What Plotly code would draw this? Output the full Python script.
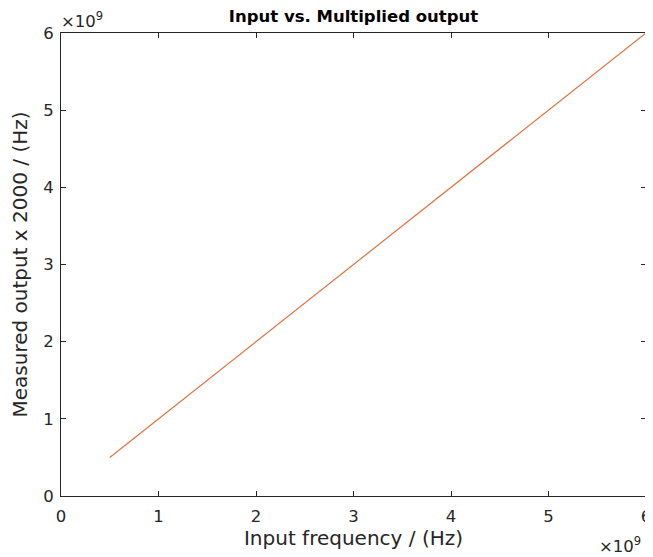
import plotly.graph_objects as go

input_freq = [0.5e9, 1e9, 1.5e9, 2e9, 2.5e9, 3e9, 3.5e9, 4e9, 4.5e9, 5e9, 5.5e9, 6e9]
measured_out = [0.5e9, 1e9, 1.5e9, 2e9, 2.5e9, 3e9, 3.5e9, 4e9, 4.5e9, 5e9, 5.5e9, 6e9]
tick_vals = [0, 1e9, 2e9, 3e9, 4e9, 5e9, 6e9]
tick_text = ["0", "1", "2", "3", "4", "5", "6"]

FONT = "DejaVu Sans"
INK = "#262626"
OFF = 8  # browser body margin offset

fig = go.Figure()
fig.add_trace(go.Scatter(x=input_freq, y=measured_out, mode="lines",
                         line=dict(color="#E0733F", width=1.2), showlegend=False,
                         cliponaxis=False))

axis_common = dict(showgrid=False, zeroline=False, showline=True, linecolor=INK,
                   linewidth=1, mirror="ticks", ticks="inside", ticklen=5, tickcolor=INK,
                   tickvals=tick_vals, ticktext=tick_text, range=[0, 6e9],
                   automargin=False,
                   tickfont=dict(family=FONT, size=16.5, color=INK))

fig.update_layout(
    width=653, height=557,
    margin=dict(l=61 - OFF, r=7 + OFF, t=33 - OFF, b=61 + OFF, autoexpand=False),
    paper_bgcolor="white", plot_bgcolor="white",
    title=dict(text="<b>Input vs. Multiplied output</b>", xref="paper", x=0.5,
               xanchor="center", y=1 - (16 - OFF) / 557, yanchor="middle",
               font=dict(family=FONT, size=16.5, color="black")),
    xaxis=dict(**axis_common, ticklabelstandoff=5,
               title=dict(text="Input frequency / (Hz)", standoff=6,
                          font=dict(family=FONT, size=20, color=INK))),
    yaxis=dict(**axis_common, ticklabelstandoff=3,
               title=dict(text="Measured output x 2000 / (Hz)", standoff=10,
                          font=dict(family=FONT, size=20, color=INK))),
)

fig.add_annotation(x=0, y=1, xref="paper", yref="paper", xanchor="left", yanchor="bottom",
                   text="\u00d710<sup>9</sup>", showarrow=False, yshift=0, xshift=-2,
                   font=dict(family=FONT, size=16.5, color=INK))
fig.add_annotation(x=1, y=0, xref="paper", yref="paper", xanchor="right", yanchor="top",
                   text="\u00d710<sup>9</sup>", showarrow=False, yshift=-36, xshift=-3,
                   font=dict(family=FONT, size=16.5, color=INK))

fig.write_html("out.html")
